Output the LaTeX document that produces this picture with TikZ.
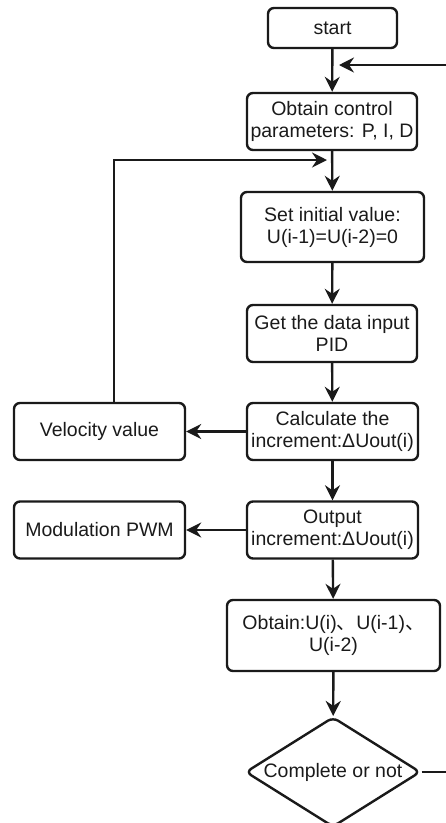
\documentclass[tikz,border=0pt]{standalone}
\usepackage{fontspec}
\setmainfont{Liberation Sans}
\newfontfamily\cjk{Noto Sans CJK SC}
\usetikzlibrary{arrows.meta,shapes.geometric}
\definecolor{ink}{HTML}{1A1A1A}
\tikzset{
    box/.style={draw=ink, line width=2.4pt, rounded corners=6pt, align=center,
        inner sep=1pt, text=ink},
    decide/.style={draw=ink, line width=2.4pt, diamond, rounded corners=6pt,
        aspect=1.6, inner sep=0pt, text=ink},
    flow/.style={draw=ink, line width=2.4pt, -{Stealth[length=15pt,width=15pt,inset=5pt]}},
}
\begin{document}
\begin{tikzpicture}[x=1pt, y=-1pt, font=\fontsize{19.5pt}{22pt}\selectfont]
    % Frame of the picture
    \clip (0,0) rectangle (446,823);

    % Main column
    \node[box, minimum width=129pt, minimum height=40pt] (start) at (332.5,28) {start};
    \node[box, minimum width=170pt, minimum height=57pt] (param) at (332,121.5)
        {Obtain control\\parameters: P, I, D};
    \node[box, minimum width=183pt, minimum height=70pt] (init) at (332.5,227)
        {Set initial value:\\U(i-1)=U(i-2)=0};
    \node[box, minimum width=170pt, minimum height=57pt] (input) at (332,333.5)
        {Get the data input\\PID};
    \node[box, minimum width=171pt, minimum height=57pt] (calc) at (332.5,431.5)
        {Calculate the\\increment:ΔUout(i)};
    \node[box, minimum width=171pt, minimum height=57pt] (output) at (332.5,530)
        {Output\\increment:ΔUout(i)};
    \node[box, minimum width=213pt, minimum height=71pt] (obtain) at (333.5,635.5)
        {Obtain:U(i){\cjk 、}U(i-1){\cjk 、}\\U(i-2)};
    \node[decide, minimum width=175pt, minimum height=110pt] (done) at (333,772)
        {Complete or not};

    % Side boxes
    \node[box, minimum width=171pt, minimum height=57pt] (speed) at (99.5,431.5) {Velocity value};
    \node[box, minimum width=171pt, minimum height=57pt] (pwm) at (99.5,530) {Modulation PWM};

    % Helper points for the loops
    \coordinate (loopin) at (333,65);
    \coordinate (backin) at (333,160);
    \coordinate (backout) at (114,403);
    \coordinate (loopout) at (460,772);

    % Arrows down the main column
    \draw[flow] (start) -- (param);
    \draw[flow] (param) -- (init);
    \draw[flow] (init) -- (input);
    \draw[flow] (input) -- (calc);
    \draw[flow] (calc) -- (output);
    \draw[flow] (output) -- (obtain);
    \draw[flow] (obtain) -- (done);

    % Arrows to the side boxes
    \draw[flow] (calc) -- (speed);
    \draw[flow] (output) -- (pwm);

    % Feedback from velocity value
    \draw[flow] (backout) |- ([xshift=-6pt]backin);

    % Loop back from the decision
    \draw[flow] (done.east) -- (loopout) |- ([xshift=6pt]loopin);
\end{tikzpicture}
\end{document}
